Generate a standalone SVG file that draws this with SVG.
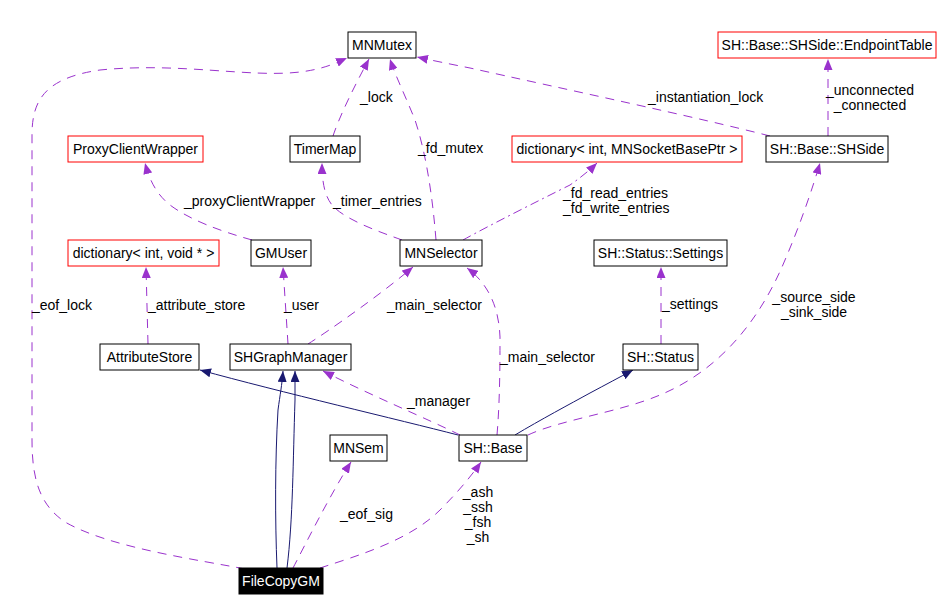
<svg xmlns="http://www.w3.org/2000/svg" width="943" height="611" viewBox="0 0 943 611">
<style>
text{font-family:"Liberation Sans",Arial,sans-serif;font-size:14px;fill:#000}
.n rect{fill:#fff;stroke:#000;stroke-width:1}
.n.red rect{stroke:#ff0000}
.n text{text-anchor:middle}
.d{fill:none;stroke:#9a32cd;stroke-width:1;stroke-dasharray:9,7}
.dd{fill:none;stroke:#9a32cd;stroke-width:1;stroke-dasharray:9,4,2,4}
.s{fill:none;stroke:#191970;stroke-width:1}
.d,.dd{marker-end:url(#ap)}
.s{marker-end:url(#ab)}
.m{text-anchor:middle}
</style>
<defs>
<marker id="ap" markerUnits="userSpaceOnUse" viewBox="0 0 11 9" refX="11" refY="4.5" markerWidth="11" markerHeight="9" orient="auto"><path d="M0,0 L11,4.5 L0,9 z" fill="#9a32cd"/></marker>
<marker id="ab" markerUnits="userSpaceOnUse" viewBox="0 0 11 9" refX="11" refY="4.5" markerWidth="11" markerHeight="9" orient="auto"><path d="M0,0 L11,4.5 L0,9 z" fill="#191970"/></marker>
</defs>
<rect width="943" height="611" fill="#fff"/>
<g id="edges">
<path class="d" d="M245,569 C200,560 110,548 65,522 C40,505 32,480 32,440 L32,135 C32,100 45,78 100,70 C180,62 250,78 300,72 C325,69 338,62 347,58"/>
<text x="32" y="310">_eof_lock</text>
<path class="d" d="M333,136 C340,115 355,85 369,59"/>
<text x="360" y="102">_lock</text>
<path class="d" d="M436,240 C432,190 425,150 415,120 C405,95 395,75 390,59"/>
<text x="418" y="153">_fd_mutex</text>
<path class="d" d="M770,136 C700,118 560,88 470,68 C450,64 430,60 417,57"/>
<text x="648" y="102">_instantiation_lock</text>
<path class="d" d="M828,136 L828,59"/>
<text class="m" x="870" y="95">_unconnected</text>
<text class="m" x="870" y="110">_connected</text>
<path class="d" d="M252,240 C220,231 190,220 170,205 C155,193 149,178 145,163"/>
<text x="184" y="206">_proxyClientWrapper</text>
<path class="d" d="M402,240 C380,232 345,220 332,205 C324,195 322,180 322,163"/>
<text x="333" y="206">_timer_entries</text>
<path class="dd" d="M463,240 C490,225 540,200 570,185 C580,178 590,170 597,163"/>
<text x="563" y="198">_fd_read_entries</text>
<text x="563" y="213">_fd_write_entries</text>
<path class="d" d="M148,344 L146,267"/>
<text x="148" y="310">_attribute_store</text>
<path class="d" d="M288,344 L283,267"/>
<text x="284" y="310">_user</text>
<path class="d" d="M308,344 C330,330 380,295 413,267"/>
<text x="387" y="310">_main_selector</text>
<path class="d" d="M497,435 C500,400 500,360 500,337 C499,310 490,285 467,268"/>
<text x="500" y="362">_main_selector</text>
<path class="d" d="M460,435 C430,420 370,395 323,371"/>
<text x="407" y="406">_manager</text>
<path class="d" d="M661,344 L661,267"/>
<text x="662" y="309">_settings</text>
<path class="d" d="M528,435 C560,420 620,412 660,395 C720,370 760,320 785,260 C800,225 812,190 820,163"/>
<text class="m" x="814" y="302">_source_side</text>
<text class="m" x="814" y="317">_sink_side</text>
<path class="s" d="M458,435 C400,420 280,392 200,370"/>
<path class="s" d="M515,435 C540,420 570,404 590,393 C605,385 620,377 633,370"/>
<path class="s" d="M277,568 C275,520 275,460 278,410 C280,395 282,385 283,371"/>
<path class="s" d="M287,568 C293,520 293,460 295,400 L295,371"/>
<path class="d" d="M293,568 C305,545 330,495 351,462"/>
<text x="340" y="519">_eof_sig</text>
<path class="d" d="M320,568 C360,555 410,540 440,510 C455,495 470,478 481,462"/>
<text class="m" x="478" y="497">_ash</text>
<text class="m" x="478" y="512">_ssh</text>
<text class="m" x="478" y="527">_fsh</text>
<text class="m" x="478" y="542">_sh</text>
</g>
<g id="MNMutex" class="n"><rect x="348" y="32" width="68" height="26"/><text x="382" y="50">MNMutex</text></g>
<g id="EndpointTable" class="n red"><rect x="718" y="32" width="218" height="26"/><text x="827" y="50">SH::Base::SHSide::EndpointTable</text></g>
<g id="ProxyClientWrapper" class="n red"><rect x="68" y="136" width="135" height="26"/><text x="135.5" y="154">ProxyClientWrapper</text></g>
<g id="TimerMap" class="n"><rect x="290" y="136" width="70" height="26"/><text x="325" y="154">TimerMap</text></g>
<g id="DictSocket" class="n red"><rect x="512" y="136" width="230" height="26"/><text x="627" y="154">dictionary&lt; int, MNSocketBasePtr &gt;</text></g>
<g id="SHSide" class="n"><rect x="766" y="136" width="122" height="26"/><text x="827" y="154">SH::Base::SHSide</text></g>
<g id="DictVoid" class="n red"><rect x="68" y="240" width="151" height="26"/><text x="143.5" y="258">dictionary&lt; int, void * &gt;</text></g>
<g id="GMUser" class="n"><rect x="251" y="240" width="60" height="26"/><text x="281" y="258">GMUser</text></g>
<g id="MNSelector" class="n"><rect x="400" y="240" width="82" height="26"/><text x="441" y="258">MNSelector</text></g>
<g id="Settings" class="n"><rect x="594" y="240" width="133" height="26"/><text x="660.5" y="258">SH::Status::Settings</text></g>
<g id="AttributeStore" class="n"><rect x="100" y="344" width="99" height="26"/><text x="149.5" y="362">AttributeStore</text></g>
<g id="SHGraphManager" class="n"><rect x="230" y="344" width="121" height="26"/><text x="290.5" y="362">SHGraphManager</text></g>
<g id="Status" class="n"><rect x="623" y="344" width="75" height="26"/><text x="660.5" y="362">SH::Status</text></g>
<g id="MNSem" class="n"><rect x="330" y="435" width="57" height="26"/><text x="358.5" y="453">MNSem</text></g>
<g id="Base" class="n"><rect x="459" y="435" width="68" height="26"/><text x="493" y="453">SH::Base</text></g>
<g id="FileCopyGM" class="n"><rect x="239" y="568" width="84" height="26" style="fill:#000"/><text x="281" y="586" style="fill:#fff">FileCopyGM</text></g>
</svg>
